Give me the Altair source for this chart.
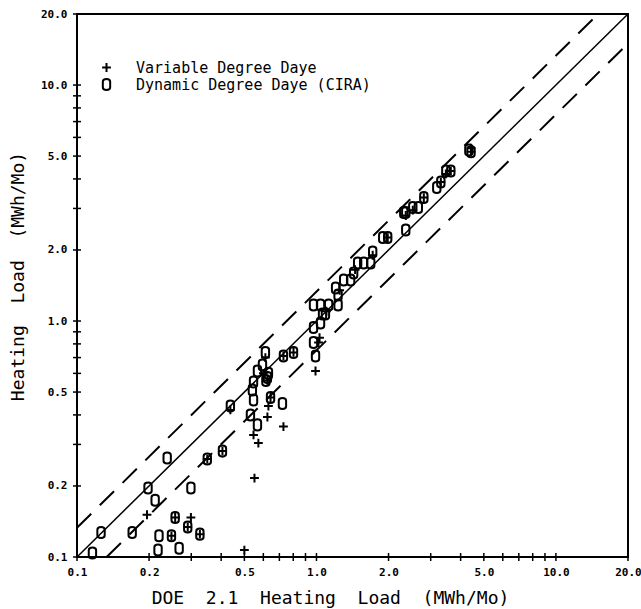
import altair as alt
import pandas as pd

# ---- data (MWh/Mo) ----
# "O" Dynamic Degree Daye (CIRA)
dyn_x = [0.116, 0.126, 0.170, 0.198, 0.212, 0.238, 0.220, 0.218, 0.267, 0.299,
         0.257, 0.248, 0.290, 0.326, 0.350, 0.405, 0.437, 0.612, 0.595, 0.567,
         0.546, 0.540, 0.546, 0.530, 0.567, 0.624, 0.630, 0.615, 0.643, 0.721,
         0.728, 0.802, 0.991, 0.972, 0.972, 1.040, 1.060, 0.972, 1.040, 1.124,
         1.231, 1.090, 1.202, 1.231, 1.299, 1.389, 1.430, 1.486, 1.575, 1.685,
         1.717, 1.891, 1.984, 2.315, 2.360, 2.360, 2.525, 2.663, 2.808, 3.180,
         3.307, 3.470, 3.640, 4.420, 4.330]
dyn_y = [0.104, 0.127, 0.127, 0.196, 0.174, 0.263, 0.123, 0.107, 0.109, 0.196,
         0.147, 0.123, 0.134, 0.125, 0.260, 0.281, 0.436, 0.736, 0.651, 0.614,
         0.552, 0.510, 0.463, 0.400, 0.363, 0.576, 0.600, 0.560, 0.474, 0.447,
         0.711, 0.736, 0.711, 0.939, 0.811, 0.981, 1.071, 1.169, 1.169, 1.169,
         1.169, 1.071, 1.380, 1.289, 1.492, 1.492, 1.598, 1.762, 1.762, 1.762,
         1.961, 2.258, 2.258, 2.883, 2.883, 2.430, 3.026, 3.026, 3.336, 3.680,
         3.880, 4.320, 4.320, 5.220, 5.300]

# "+" Variable Degree Daye
var_x = [0.196, 0.299, 0.257, 0.248, 0.290, 0.326, 0.350, 0.405, 0.643, 0.728,
         0.802, 1.984, 2.808, 3.307, 3.640, 4.420, 0.500, 0.551, 0.546, 0.572,
         0.630, 0.624, 0.728, 0.991, 1.020, 1.030, 0.437, 0.600, 0.624, 0.612,
         1.100, 1.250, 1.450, 1.717, 2.360, 2.525, 4.420, 3.470]
var_y = [0.151, 0.147, 0.147, 0.123, 0.134, 0.125, 0.260, 0.281, 0.474, 0.711,
         0.736, 2.258, 3.336, 3.880, 4.320, 5.220, 0.107, 0.216, 0.329, 0.304,
         0.436, 0.392, 0.357, 0.614, 0.811, 0.850, 0.420, 0.600, 0.560, 0.700,
         1.100, 1.350, 1.650, 1.900, 2.800, 2.950, 5.400, 4.200]

series_names = ["Variable Degree Daye", "Dynamic Degree Daye (CIRA)"]

# reference lines: 1:1 and the two dashed bands
solid_x = [0.1, 20.0]
solid_y = [0.1, 20.0]
upper_x = [0.1, 15.0]
upper_y = [0.133, 20.0]
lower_x = [0.133, 20.0]
lower_y = [0.1, 15.0]

tick_values = [0.1, 0.2, 0.3, 0.4, 0.5, 0.6, 0.7, 0.8, 0.9,
               1, 2, 3, 4, 5, 6, 7, 8, 9, 10, 20]
label_values = [0.1, 0.2, 0.5, 1, 2, 5, 10, 20]

# ---- build tables ----
pts = pd.concat([
    pd.DataFrame({"x": var_x, "y": var_y, "series": series_names[0]}),
    pd.DataFrame({"x": dyn_x, "y": dyn_y, "series": series_names[1]}),
], ignore_index=True)

lines = pd.concat([
    pd.DataFrame({"x": solid_x, "y": solid_y, "kind": "solid"}),
    pd.DataFrame({"x": upper_x, "y": upper_y, "kind": "upper"}),
    pd.DataFrame({"x": lower_x, "y": lower_y, "kind": "lower"}),
], ignore_index=True)

ticks = pd.DataFrame({"t": tick_values})

FONT = "DejaVu Sans Mono"
W, H = 551, 543
SP = "\u00a0\u00a0"

xscale = alt.Scale(type="log", domain=[0.1, 20], nice=False)
yscale = alt.Scale(type="log", domain=[0.1, 20], nice=False)

xaxis = alt.Axis(values=label_values, format=".1f", grid=False, ticks=False,
                 domain=False, labelFont=FONT, labelFontWeight="bold",
                 labelFontSize=11, labelColor="black", labelPadding=9,
                 labelOverlap=False, labelFlush=False, labelBound=False,
                 title=f"DOE{SP}2.1{SP}Heating{SP}Load{SP}(MWh/Mo)", titleFont=FONT,
                 titleFontSize=18, titleFontWeight="normal", titleColor="black",
                 titleX=253, titleY=41, titleBaseline="middle", titleAlign="center",
                 titleLimit=0)
yaxis = alt.Axis(values=label_values, format=".1f", grid=False, ticks=False,
                 domain=False, labelFont=FONT, labelFontWeight="bold",
                 labelFontSize=11, labelColor="black", labelPadding=10,
                 labelOverlap=False, labelFlush=False, labelBound=False,
                 title=f"Heating{SP}Load{SP}(MWh/Mo)", titleFont=FONT,
                 titleFontSize=18, titleFontWeight="normal", titleColor="black",
                 titleX=-59, titleY=262, titleBaseline="middle", titleAlign="center",
                 titleAngle=270, titleLimit=0)

O_PATH = ("M-0.6,-0.45 C-0.6,-1.05 0.6,-1.05 0.6,-0.45 L0.6,0.45 "
          "C0.6,1.05 -0.6,1.05 -0.6,0.45 Z")
PLUS_PATH = "M-0.72,0 L0.72,0 M0,-0.72 L0,0.72"

solid = alt.Chart(lines[lines.kind == "solid"]).mark_line(
    color="black", strokeWidth=1.5, clip=True).encode(
    x=alt.X("x:Q", scale=xscale, axis=xaxis),
    y=alt.Y("y:Q", scale=yscale, axis=yaxis))

dashed = alt.Chart(lines[lines.kind != "solid"]).mark_line(
    color="black", strokeWidth=2, strokeDash=[20, 12], clip=True).encode(
    x=alt.X("x:Q", scale=xscale, axis=xaxis),
    y=alt.Y("y:Q", scale=yscale, axis=yaxis),
    detail="kind:N")

points = alt.Chart(pts).mark_point(
    filled=False, color="black", strokeWidth=2, size=150, opacity=1).encode(
    x=alt.X("x:Q", scale=xscale, axis=xaxis),
    y=alt.Y("y:Q", scale=yscale, axis=yaxis),
    shape=alt.Shape("series:N",
                    scale=alt.Scale(domain=series_names, range=[PLUS_PATH, O_PATH]),
                    legend=alt.Legend(title=None, orient="none", legendX=22, legendY=46,
                                      labelFont=FONT, labelFontSize=15,
                                      labelColor="black", labelLimit=0,
                                      symbolStrokeColor="black",
                                      symbolStrokeWidth=2, symbolFillColor="white",
                                      symbolSize=150, labelOffset=22, rowPadding=-2,
                                      padding=0)))

xticks = alt.Chart(ticks).mark_rule(color="black", strokeWidth=1.5).encode(
    x=alt.X("t:Q", scale=xscale, axis=xaxis),
    y=alt.value(H - 4), y2=alt.value(H + 4))

yticks = alt.Chart(ticks).mark_rule(color="black", strokeWidth=1.5).encode(
    y=alt.Y("t:Q", scale=yscale, axis=yaxis),
    x=alt.value(-4), x2=alt.value(4))

chart = alt.layer(solid, dashed, xticks, yticks, points).properties(
    width=W, height=H,
    autosize=alt.AutoSizeParams(type="none"),
    padding={"left": 77, "top": 14, "right": 13, "bottom": 52},
    background="white",
).configure_view(stroke="black", strokeWidth=2)

chart.save("out.html", embed_options={"renderer": "svg", "actions": False})
